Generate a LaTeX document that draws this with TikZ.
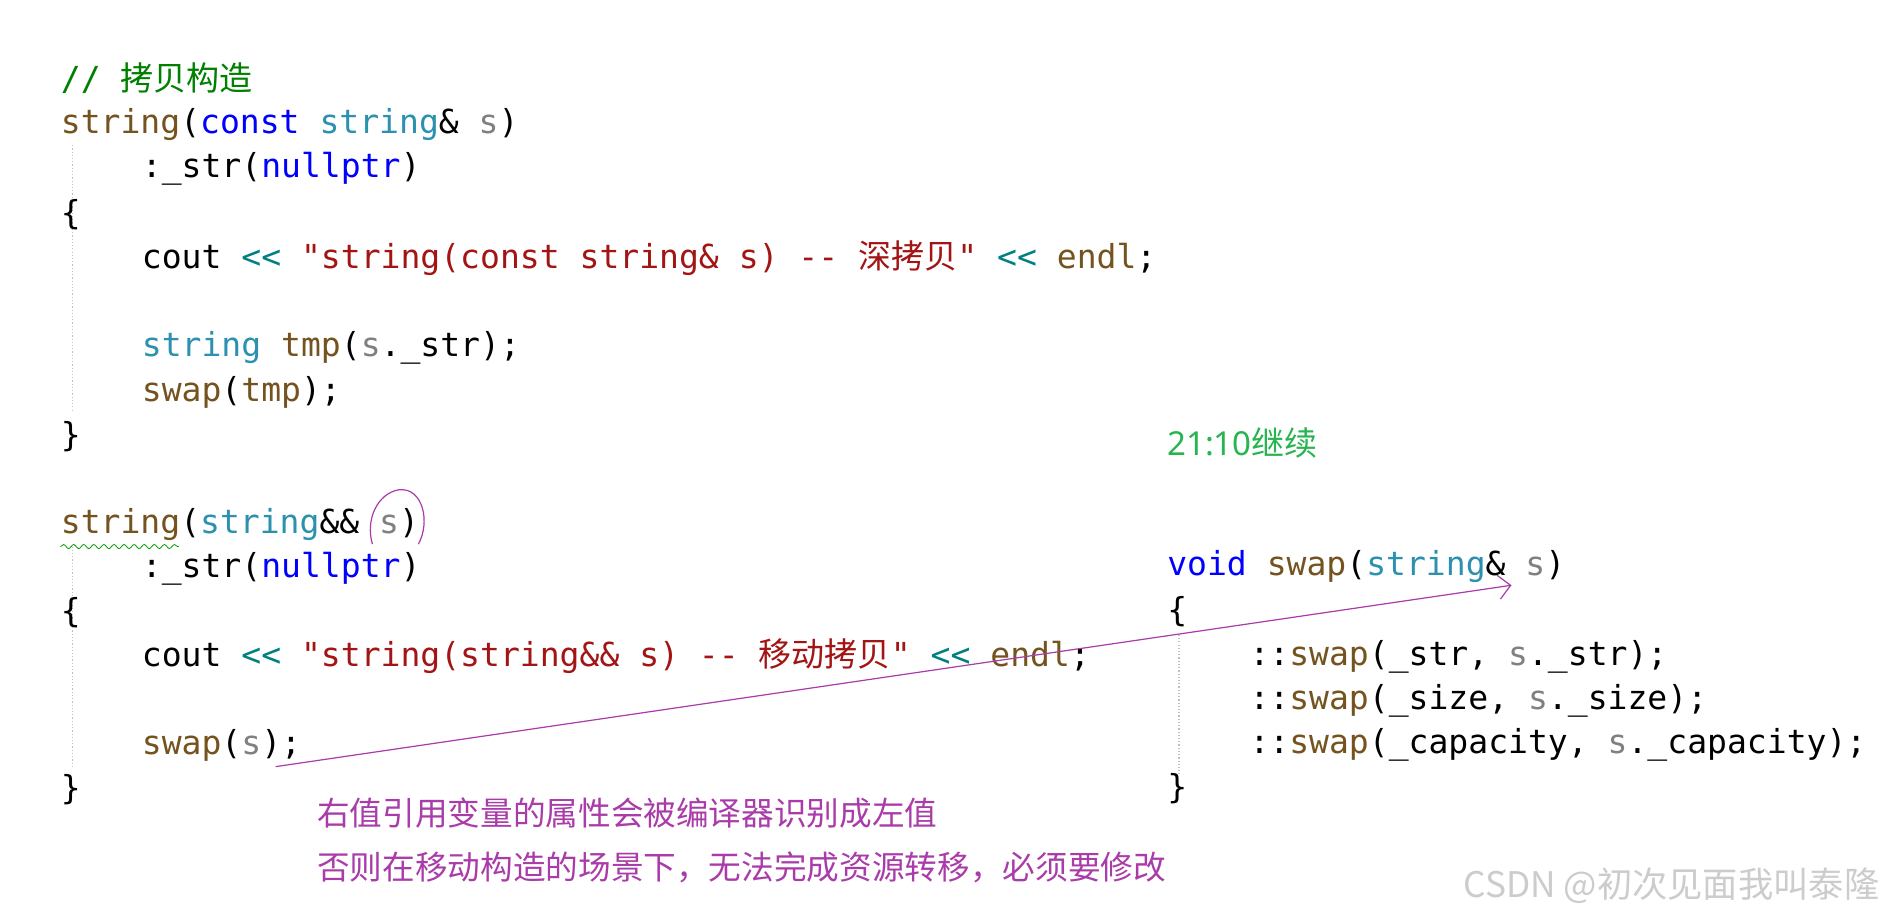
\documentclass[tikz,border=0pt]{standalone}
\usepackage{fontspec}
\setmonofont{DejaVu Sans Mono}
\setsansfont{Noto Sans}
\newfontfamily\cjk{Noto Sans CJK SC}
\usetikzlibrary{decorations.pathmorphing,arrows.meta}
\definecolor{kw}{RGB}{0,0,255}
\definecolor{ty}{RGB}{43,145,175}
\definecolor{fn}{RGB}{116,83,31}
\definecolor{st}{RGB}{163,21,21}
\definecolor{op}{RGB}{0,128,128}
\definecolor{vr}{RGB}{128,128,128}
\definecolor{cm}{RGB}{0,128,0}
\definecolor{pu}{RGB}{170,60,170}
\newcommand\Kw[1]{\textcolor{kw}{#1}}
\newcommand\Ty[1]{\textcolor{ty}{#1}}
\newcommand\Fn[1]{\textcolor{fn}{#1}}
\newcommand\St[1]{\textcolor{st}{#1}}
\newcommand\Op[1]{\textcolor{op}{#1}}
\newcommand\Vr[1]{\textcolor{vr}{#1}}
\begin{document}
\begin{tikzpicture}[x=0.6pt,y=-0.6pt,
  code/.style={anchor=base west,inner sep=0pt,font=\ttfamily\fontsize{16.4}{18}\selectfont},
  note/.style={anchor=base west,inner sep=0pt,font=\cjk\fontsize{16.2}{18}\selectfont,text=pu},
  guide/.style={densely dotted,gray!50,line width=0.6pt}]
\useasboundingbox (0,0) rectangle (1568,760);
\fill[white] (0,0) rectangle (1568,760);
% guides
\draw[guide] (60,120) -- (60,340);
\draw[guide] (60,452) -- (60,635);
\draw[guide] (975,525) -- (975,640);
% left code
\node[code] (c0) at (50,75) {\textcolor{cm}{// {\cjk 拷贝构造}}};
\node[code] (c1) at (50,110) {\Fn{string}(\Kw{const} \Ty{string}\& \Vr{s})};
\node[code] (c2) at (117,147) {:\_str(\Kw{nullptr})};
\node[code] (c3) at (50,186) {\{};
\node[code] (c4) at (117,222) {cout \Op{<<} \St{"string(const string\& s) -- {\cjk 深拷贝}"} \Op{<<} \Fn{endl};};
\node[code] (c5) at (117,295) {\Ty{string} \Fn{tmp}(\Vr{s}.\_str);};
\node[code] (c6) at (117,332) {\Fn{swap}(\Fn{tmp});};
\node[code] (c7) at (50,369) {\}};
\node[code] (d1) at (50,441) {\Fn{string}(\Ty{string}\&\& \Vr{s})};
\node[code] (d2) at (117,478) {:\_str(\Kw{nullptr})};
\node[code] (d3) at (50,515) {\{};
\node[code] (d4) at (117,551) {cout \Op{<<} \St{"string(string\&\& s) -- {\cjk 移动拷贝}"} \Op{<<} \Fn{endl};};
\node[code] (d5) at (117,624) {\Fn{swap}(\Vr{s});};
\node[code] (d6) at (50,661) {\}};
% right code
\node[anchor=base west,inner sep=0pt,font=\sffamily\fontsize{16.4}{18}\selectfont,text={rgb,255:red,40;green,180;blue,80}] (t) at (965,377) {21:10{\cjk 继续}};
\node[code] (e1) at (965,476) {\Kw{void} \Fn{swap}(\Ty{string}\& \Vr{s})};
\node[code] (e2) at (965,514) {\{};
\node[code] (e3) at (1033,550) {::\Fn{swap}(\_str, \Vr{s}.\_str);};
\node[code] (e4) at (1033,587) {::\Fn{swap}(\_size, \Vr{s}.\_size);};
\node[code] (e5) at (1033,623) {::\Fn{swap}(\_capacity, \Vr{s}.\_capacity);};
\node[code] (e6) at (965,660) {\}};
% annotations
\draw[green!60!black,decorate,decoration={snake,amplitude=1pt,segment length=5pt}] (50,452) -- (148,452);
\draw[pu,line width=0.6pt] (308,450) .. controls (302,430) and (312,408) .. (330,405) .. controls (350,403) and (356,432) .. (346,450);
\coordinate (a0) at (228,634);
\coordinate (a1) at (1250,484);
\draw[pu,line width=0.6pt,-{Straight Barb[length=6pt]}] (a0) -- (a1);
\node[note] (n1) at (262,683) {右值引用变量的属性会被编译器识别成左值};
\node[note] (n2) at (262,727) {否则在移动构造的场景下，无法完成资源转移，必须要修改};
\node[anchor=base west,inner sep=0pt,font=\cjk\fontsize{17.5}{20}\selectfont,text=gray!40] (w) at (1210,742) {CSDN @初次见面我叫泰隆};
\end{tikzpicture}
\end{document}
